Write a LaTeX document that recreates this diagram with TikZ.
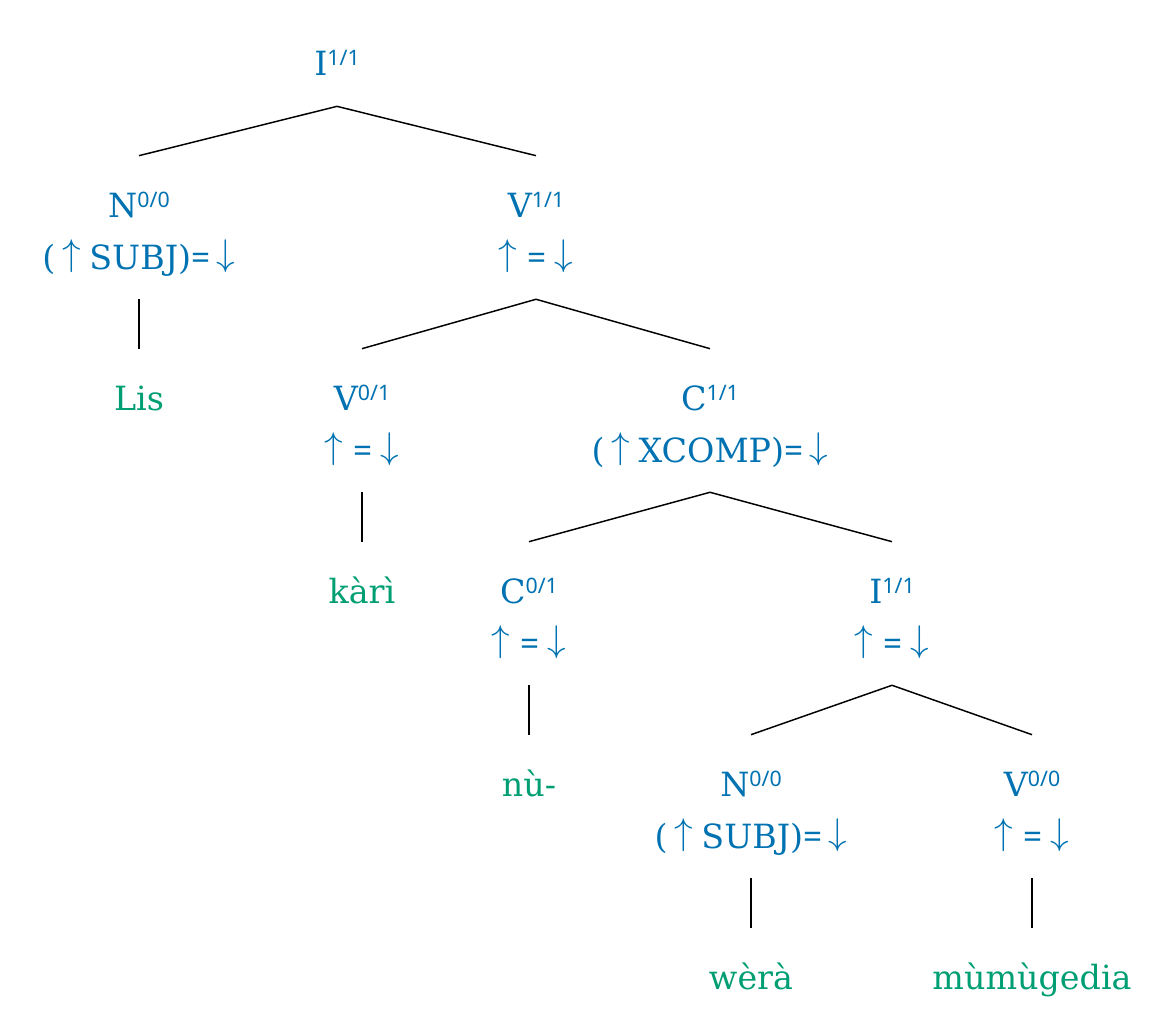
\documentclass[tikz,border=0pt]{standalone}
\usepackage{fontspec}
\setmainfont{DejaVu Serif}
\newfontfamily\supfont{Noto Sans}
\definecolor{fblue}{HTML}{0072B2}
\definecolor{fgreen}{HTML}{009E73}
\newcommand{\lbar}[2]{#1\raisebox{7.5pt}{\fontsize{16}{16}\supfont #2}}
\newcommand{\fup}{\raisebox{3pt}{\scalebox{1.12}{$\uparrow$}}}
\newcommand{\fdn}{\raisebox{3pt}{\scalebox{1.12}{$\downarrow$}}}
\newcommand{\feq}{{\supfont =}}
\newcommand{\fsame}{\fup\hspace{7.5pt}\feq\hspace{6pt}\fdn}
\newcommand{\ffun}[1]{(\hspace{5pt}\fup\hspace{6.5pt}#1)\feq\hspace{5pt}\fdn}

\begin{document}
\begin{tikzpicture}[
      x=0.75pt,y=-0.75pt,
      mycat/.style={
         font=\fontsize{25}{30}\selectfont,
         text=fblue,
         text height=18pt,
         text depth=0pt,
         inner sep=0pt,
         outer ysep=28pt},
      myann/.style={mycat, outer ysep=22.7pt},
      myword/.style={mycat, text=fgreen},
      myline/.style={line width=1.1pt}
      ]
      \useasboundingbox (0,0) rectangle (1173,1033);
      \node[mycat,outer ysep=23.5pt] (i0) at (337,63) {\lbar{I}{1/1}};
      \node[mycat] (n0) at (139,205) {\lbar{N}{0/0}};
      \node[myann] (n0a) at (139,257) {\ffun{SUBJ}};
      \node[myword] (w0) at (139,398) {Lis};
      \node[mycat] (v0) at (536,205) {\lbar{V}{1/1}};
      \node[myann] (v0a) at (536,257) {\fsame};
      \node[mycat] (v1) at (362,398) {\lbar{V}{0/1}};
      \node[myann] (v1a) at (362,450) {\fsame};
      \node[myword] (w1) at (362,591) {kàrì};
      \node[mycat] (c0) at (710,398) {\lbar{C}{1/1}};
      \node[myann] (c0a) at (710,450) {\ffun{XCOMP}};
      \node[mycat] (c1) at (529,591) {\lbar{C}{0/1}};
      \node[myann] (c1a) at (529,643) {\fsame};
      \node[myword] (w2) at (529,784) {nù-};
      \node[mycat] (i1) at (892,591) {\lbar{I}{1/1}};
      \node[myann] (i1a) at (892,643) {\fsame};
      \node[mycat] (n1) at (751,784) {\lbar{N}{0/0}};
      \node[myann] (n1a) at (751,836) {\ffun{SUBJ}};
      \node[myword] (w3) at (751,977) {wèrà};
      \node[mycat] (v2) at (1032,784) {\lbar{V}{0/0}};
      \node[myann] (v2a) at (1032,836) {\fsame};
      \node[myword] (w4) at (1032,977) {mùmùgedia};

    \foreach \i/\j in {% mother/daughter
      i0/n0, i0/v0,
      v0a/v1, v0a/c0,
      c0a/c1, c0a/i1,
      i1a/n1, i1a/v2,
      n0a/w0, v1a/w1, c1a/w2, n1a/w3, v2a/w4}
       \draw [myline] (\i.south) -- (\j.north);

    \end{tikzpicture}
\end{document}
